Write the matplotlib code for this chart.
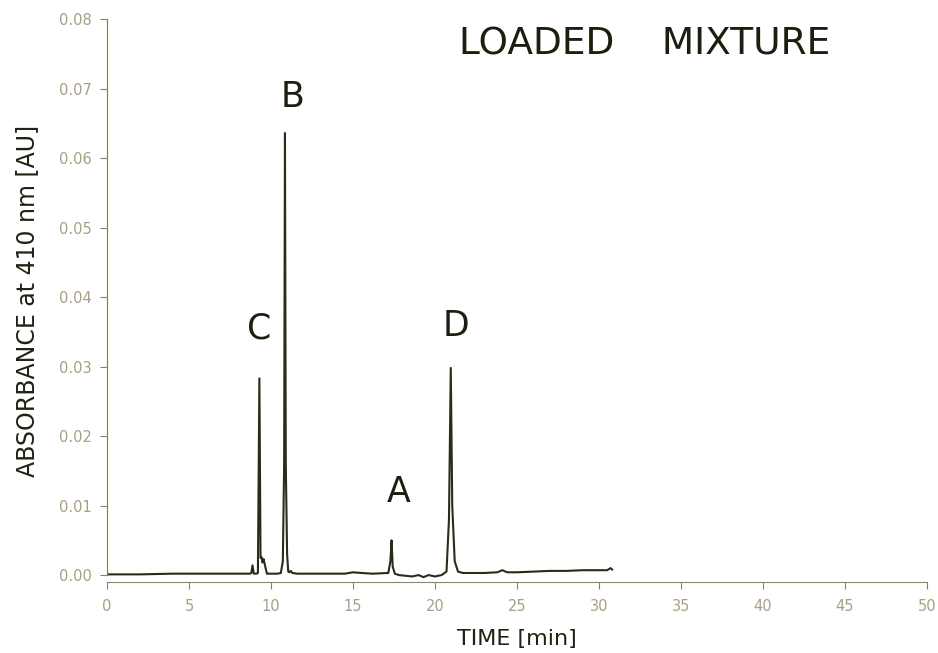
import matplotlib.pyplot as plt

# chromatogram trace
time = [0, 2, 4, 6, 8, 8.7, 8.8, 8.87, 8.95, 9.1, 9.2, 9.29, 9.36, 9.42, 9.48,
        9.55, 9.62, 9.75, 10.0, 10.4, 10.6, 10.72, 10.8, 10.85, 10.9, 10.98,
        11.05, 11.12, 11.2, 11.3, 11.6, 13.0, 14.5, 15.0, 15.5, 16.2, 17.15,
        17.28, 17.35, 17.42, 17.55, 17.8, 18.2, 18.6, 19.0, 19.3, 19.6, 20.0,
        20.4, 20.7, 20.85, 20.96, 21.05, 21.2, 21.4, 21.7, 22.2, 23.0, 23.8,
        24.1, 24.4, 25.0, 26.0, 27.0, 28.0, 29.0, 30.0, 30.5, 30.7, 30.8]
absorbance = [0.0001, 0.0001, 0.0002, 0.0002, 0.0002, 0.0002, 0.0003, 0.0014,
              0.0002, 0.0002, 0.0003, 0.0283, 0.0025, 0.0026, 0.0018, 0.0023,
              0.0015, 0.0002, 0.0002, 0.0002, 0.0003, 0.0020, 0.0160, 0.0636,
              0.0160, 0.0030, 0.0005, 0.0004, 0.0006, 0.0003, 0.0002, 0.0002,
              0.0002, 0.0004, 0.0003, 0.0002, 0.0003, 0.0020, 0.0050, 0.0012,
              0.0002, 0.0000, -0.0001, -0.0002, 0.0000, -0.0003, 0.0000,
              -0.0002, 0.0000, 0.0005, 0.0080, 0.0298, 0.0100, 0.0020, 0.0005,
              0.0003, 0.0003, 0.0003, 0.0004, 0.0007, 0.0004, 0.0004, 0.0005,
              0.0006, 0.0006, 0.0007, 0.0007, 0.0007, 0.0010, 0.0008]

x_ticks = [0, 5, 10, 15, 20, 25, 30, 35, 40, 45, 50]
y_ticks = [0.00, 0.01, 0.02, 0.03, 0.04, 0.05, 0.06, 0.07, 0.08]

peak_names = ['C', 'B', 'A', 'D']
peak_x = [9.27, 11.34, 17.8, 21.3]
peak_y = [0.0355, 0.0688, 0.0120, 0.0358]

fig = plt.figure(figsize=(9.38, 6.53), dpi=100)
ax = fig.add_axes([0.1141, 0.1087, 0.8742, 0.8622])

ax.plot(time, absorbance, color='#2b2b1a', linewidth=1.5)

ax.set_xlim(0, 50)
ax.set_ylim(-0.001, 0.08)
ax.spines['top'].set_visible(False)
ax.spines['right'].set_visible(False)
ax.spines['left'].set_bounds(0, 0.08)
ax.spines['left'].set_color('#8a7a50')
ax.spines['bottom'].set_color('#8a8a60')

ax.set_xticks(x_ticks)
ax.set_xticklabels([str(t) for t in x_ticks])
ax.set_yticks(y_ticks)
ax.set_yticklabels(['%.2f' % v for v in y_ticks])
ax.tick_params(axis='both', colors='#8a8060', labelcolor='#a89f80',
               labelsize=10.5, length=5, width=0.8)
ax.tick_params(axis='x', pad=7)
ax.tick_params(axis='y', pad=6)

ax.set_xlabel('TIME [min]', fontsize=16, color='#222211', labelpad=11)
ax.set_ylabel('ABSORBANCE at 410 nm [AU]', fontsize=17, color='#222211', labelpad=14)

for name, px, py in zip(peak_names, peak_x, peak_y):
    ax.text(px, py, name, fontsize=25, ha='center', va='center', color='#1e1e10')

ax.text(32.8, 0.0763, 'LOADED    MIXTURE', fontsize=27, ha='center', va='center',
        color='#1e1e10')

plt.savefig('out.png', dpi=100)
